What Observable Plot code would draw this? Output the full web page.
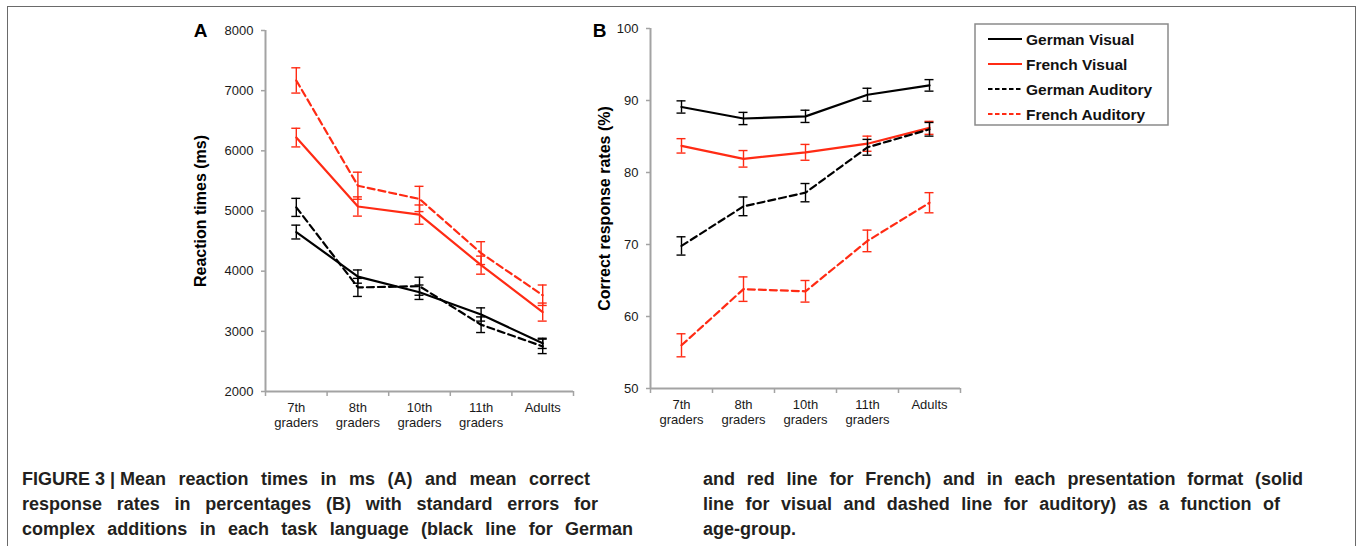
<!DOCTYPE html>
<html>
<head>
<meta charset="utf-8">
<script src="https://cdn.jsdelivr.net/npm/d3@7"></script>
<script src="https://cdn.jsdelivr.net/npm/@observablehq/plot@0.6"></script>
<style>
  body { margin: 0; background: #fff; }
  #fig { position: relative; width: 1357px; height: 546px; overflow: hidden; background: #fff;
         font-family: "Liberation Sans", Arial, sans-serif; }
  #frame { position: absolute; left: 7px; top: 6px; width: 1349px; height: 700px;
           border: 1.5px solid #6a6a6a; box-sizing: border-box; }
  #fig svg { position: absolute; }
  g[aria-label^="y-axis"] line, g[aria-label^="y-axis"] path,
  g[aria-label^="x-axis"] line, g[aria-label^="x-axis"] path { stroke: #a3a3a3; stroke-width: 1.5; }
  .cap { position: absolute; font-family: "Liberation Sans", Arial, sans-serif;
         font-weight: bold; font-size: 18px; color: #231f20; white-space: pre; line-height: 25px; }
  .cap > span { display: inline-block; }
  .cap span span { word-spacing: 0; }
</style>
</head>
<body>
<div id="fig">
  <div id="frame"></div>
</div>
<script>
// ---------- data ----------
const categories = ["7th\ngraders", "8th\ngraders", "10th\ngraders", "11th\ngraders", "Adults"];
const seriesNames = ["German Visual", "French Visual", "German Auditory", "French Auditory"];
const seriesColors = ["#000000", "#ff2b14", "#000000", "#ff2b14"];
const seriesDashed = [false, false, true, true];

// Panel A: reaction times (ms), mean and standard error
const rtGermanVisual     = [4650, 3910, 3650, 3280, 2800];
const rtGermanVisualSE   = [115, 110, 120, 110, 85];
const rtFrenchVisual     = [6220, 5075, 4940, 4100, 3320];
const rtFrenchVisualSE   = [155, 160, 160, 150, 150];
const rtGermanAuditory   = [5060, 3730, 3750, 3110, 2750];
const rtGermanAuditorySE = [150, 150, 150, 130, 120];
const rtFrenchAuditory   = [7170, 5420, 5200, 4300, 3600];
const rtFrenchAuditorySE = [210, 225, 210, 190, 170];
const rtTicks = [2000, 3000, 4000, 5000, 6000, 7000, 8000];

// Panel B: correct response rates (%), mean and standard error
const crGermanVisual     = [89.1, 87.5, 87.8, 90.8, 92.1];
const crGermanVisualSE   = [0.85, 0.85, 0.85, 0.9, 0.8];
const crFrenchVisual     = [83.7, 81.9, 82.8, 84.0, 86.2];
const crFrenchVisualSE   = [1.0, 1.15, 1.1, 1.05, 0.9];
const crGermanAuditory   = [69.8, 75.3, 77.2, 83.5, 86.0];
const crGermanAuditorySE = [1.27, 1.3, 1.27, 1.1, 0.95];
const crFrenchAuditory   = [56.0, 63.8, 63.5, 70.5, 75.8];
const crFrenchAuditorySE = [1.6, 1.7, 1.5, 1.5, 1.4];
const crTicks = [50, 60, 70, 80, 90, 100];

const captionPrefix = "FIGURE 3 | ";
const captionLeft = [
  "FIGURE 3 | Mean reaction times in ms (A) and mean correct",
  "response rates in percentages (B) with standard errors for",
  "complex additions in each task language (black line for German"
];
const captionRight = [
  "and red line for French) and in each presentation format (solid",
  "line for visual and dashed line for auditory) as a function of",
  "age-group."
];

// ---------- drawing ----------
const axisGray = "#a3a3a3";
const textColor = "#1a1a1a";
const fig = document.getElementById("fig");

function panel(o) {
  const marks = [
    Plot.ruleX([-0.5], {stroke: axisGray, strokeWidth: 2}),
    Plot.ruleY([o.yDomain[0]], {stroke: axisGray, strokeWidth: 2}),
    Plot.text(categories, {x: (d, i) => i, y: o.yDomain[0], text: d => d, dy: 10,
      lineAnchor: "top", lineHeight: 1.15, fontSize: 13, fill: textColor})
  ];
  seriesNames.forEach((name, k) => {
    const rows = o.values[k].map((v, i) => ({i, v, e: o.ses[k][i]}));
    const c = seriesColors[k];
    marks.push(
      Plot.ruleX(rows, {x: "i", y1: d => d.v - d.e, y2: d => d.v + d.e, stroke: c, strokeWidth: 1.4}),
      Plot.ruleY(rows, {y: d => d.v + d.e, x1: "i", x2: "i", insetLeft: -4.5, insetRight: -4.5, stroke: c, strokeWidth: 1.4}),
      Plot.ruleY(rows, {y: d => d.v - d.e, x1: "i", x2: "i", insetLeft: -4.5, insetRight: -4.5, stroke: c, strokeWidth: 1.4}),
      Plot.line(rows, {x: "i", y: "v", stroke: c, strokeWidth: 2.2,
        strokeDasharray: seriesDashed[k] ? "7,4" : null})
    );
  });
  marks.push(
    Plot.text([o.title], {frameAnchor: "left", dx: o.titleDx, rotate: -90, text: d => d,
      textAnchor: "middle", lineAnchor: "middle", fontWeight: "bold", fontSize: 16, fill: "#000"}),
    Plot.text([o.letter], {frameAnchor: "top-left", dx: o.letterDx, dy: o.letterDy, lineAnchor: "middle",
      textAnchor: "middle", text: d => d, fontWeight: "bold", fontSize: 19, fill: "#000"})
  );
  const svg = Plot.plot({
    width: o.width, height: o.height,
    marginLeft: o.marginLeft, marginRight: 10, marginTop: o.marginTop, marginBottom: o.marginBottom,
    style: {fontFamily: "'Liberation Sans', Arial, sans-serif", fontSize: "13px", color: textColor,
      background: "transparent", overflow: "visible"},
    x: {domain: [-0.5, categories.length - 0.5], ticks: d3.range(categories.length + 1).map(j => j - 0.5),
      tickFormat: () => "", tickSize: 5, label: null},
    y: {domain: o.yDomain, ticks: o.yTicks, tickFormat: d3.format("d"), tickSize: 4, tickPadding: 8, label: null},
    marks
  });
  svg.style.left = o.left + "px";
  svg.style.top = "0px";
  svg.style.maxWidth = "none";
  fig.appendChild(svg);
}

panel({
  values: [rtGermanVisual, rtFrenchVisual, rtGermanAuditory, rtFrenchAuditory],
  ses: [rtGermanVisualSE, rtFrenchVisualSE, rtGermanAuditorySE, rtFrenchAuditorySE],
  yDomain: [2000, 8000], yTicks: rtTicks, title: "Reaction times (ms)", letter: "A",
  left: 150, width: 433, height: 440, marginLeft: 115, marginTop: 30, marginBottom: 49,
  titleDx: -65, letterDx: -65, letterDy: 0
});
panel({
  values: [crGermanVisual, crFrenchVisual, crGermanAuditory, crFrenchAuditory],
  ses: [crGermanVisualSE, crFrenchVisualSE, crGermanAuditorySE, crFrenchAuditorySE],
  yDomain: [50, 100], yTicks: crTicks, title: "Correct response rates (%)", letter: "B",
  left: 560, width: 410, height: 440, marginLeft: 90, marginTop: 28, marginBottom: 52,
  titleDx: -46, letterDx: -51, letterDy: 2
});

// ---------- legend ----------
const leg = d3.select(fig).append("svg")
  .attr("width", 200).attr("height", 110)
  .style("left", "974px").style("top", "23px");
leg.append("rect").attr("x", 1).attr("y", 1).attr("width", 193).attr("height", 101)
  .attr("fill", "#fff").attr("stroke", "#8a8a8a").attr("stroke-width", 1.5);
seriesNames.forEach((name, k) => {
  const y = 16 + k * 25;
  leg.append("line").attr("x1", 14).attr("x2", 48).attr("y1", y).attr("y2", y)
    .attr("stroke", seriesColors[k]).attr("stroke-width", 2)
    .attr("stroke-dasharray", seriesDashed[k] ? "4.5,2.5" : null);
  leg.append("text").attr("x", 52).attr("y", y).attr("dy", "0.36em")
    .attr("font-family", "'Liberation Sans', Arial, sans-serif").attr("font-size", 15.5)
    .attr("font-weight", "bold").attr("fill", "#111").text(name);
});

// ---------- caption ----------
function captionColumn(lines, left, targets) {
  const div = document.createElement("div");
  div.className = "cap";
  div.style.left = left + "px";
  div.style.top = "467px";
  fig.appendChild(div);
  lines.forEach((line, j) => {
    const span = document.createElement("span");
    let rest = line;
    if (line.startsWith(captionPrefix)) {
      const inner = document.createElement("span");
      inner.textContent = captionPrefix;
      span.appendChild(inner);
      rest = line.slice(captionPrefix.length);
    }
    span.appendChild(document.createTextNode(rest));
    const n = (rest.match(/ /g) || []).length;
    div.appendChild(span);
    div.appendChild(document.createElement("br"));
    if (targets[j] && n > 0) {
      const w = span.getBoundingClientRect().width;
      span.style.wordSpacing = Math.max(0, (targets[j] - left - w) / n) + "px";
    }
  });
}
captionColumn(captionLeft, 22, [590, 598, 633]);
captionColumn(captionRight, 703, [1303, 1280, null]);
</script>
</body>
</html>
